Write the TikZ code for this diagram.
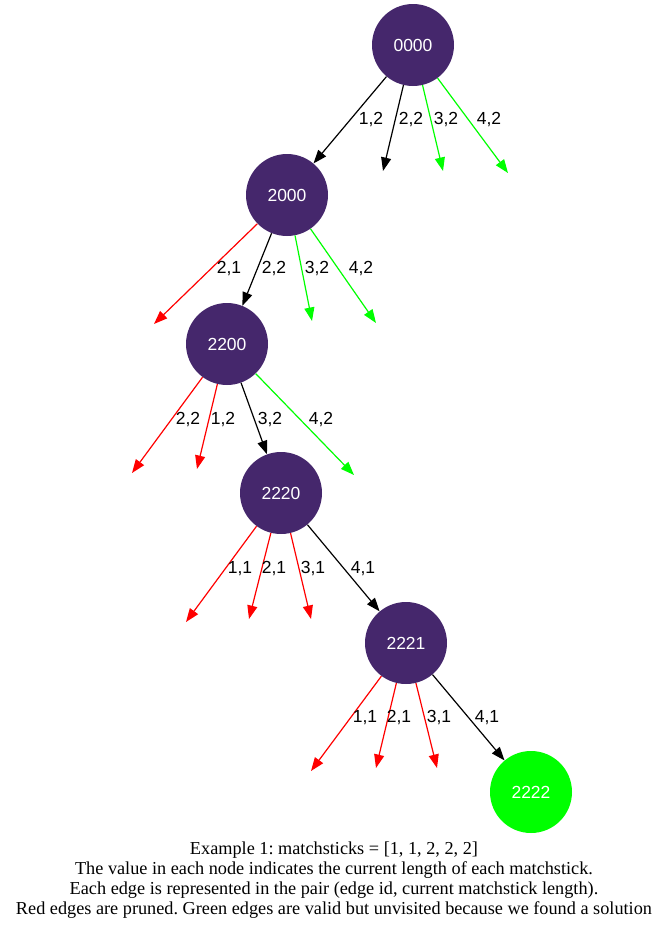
\documentclass[tikz,border=0pt]{standalone}
\usepackage{fontspec}
\setmainfont{Liberation Serif}
\newfontfamily\helv{Liberation Sans}
\usetikzlibrary{arrows.meta}
\definecolor{statecol}{RGB}{69,39,108}
\definecolor{okgreen}{RGB}{0,255,0}
\definecolor{cutred}{RGB}{255,0,0}
\frenchspacing

\tikzset{
  state/.style={circle,fill=statecol,minimum size=82pt,inner sep=0pt,text=white,font=\helv\fontsize{17.5}{20}\selectfont},
  found/.style={state,fill=okgreen},
  lbl/.style={inner sep=0pt,text=black,yshift=-1pt,font=\helv\fontsize{17.5}{20}\selectfont},
  gv/.style={line width=1.2pt,-{Triangle[length=13.5pt,width=10pt]}},
  taken/.style={gv,black},
  cut/.style={gv,cutred},
  open/.style={gv,okgreen}
}

\begin{document}
\begin{tikzpicture}[x=1pt,y=-1pt]
\useasboundingbox (0,0) rectangle (668,930);

\node[state] (s0) at (413,45) {0000};
\node[state] (s1) at (287,195) {2000};
\node[state] (s2) at (227,344) {2200};
\node[state] (s3) at (281,493) {2220};
\node[state] (s4) at (406,643) {2221};
\node[found] (s5) at (531,792) {2222};

% free ends
\coordinate (a2) at (383,171);  \coordinate (a3) at (443,171);  \coordinate (a4) at (508,173);
\coordinate (b1) at (154,324);  \coordinate (b3) at (312,321);  \coordinate (b4) at (376,323);
\coordinate (c2) at (132,473);  \coordinate (c1) at (197,469);  \coordinate (c4) at (354,475);
\coordinate (d1) at (186,622);  \coordinate (d2) at (249,619);  \coordinate (d3) at (311,619);
\coordinate (e1) at (311,771);  \coordinate (e2) at (376,768);  \coordinate (e3) at (437,768);

% 0000
\draw[taken] (s0) -- (s1) node[lbl] (la1) at (371,119) {1,2};
\draw[taken] (s0) -- (a2) node[lbl] (la2) at (411,119) {2,2};
\draw[open]  (s0) -- (a3) node[lbl] (la3) at (446,119) {3,2};
\draw[open]  (s0) -- (a4) node[lbl] (la4) at (489,119) {4,2};
% 2000
\draw[cut]   (s1) -- (b1) node[lbl] (lb1) at (229,268) {2,1};
\draw[taken] (s1) -- (s2) node[lbl] (lb2) at (274,268) {2,2};
\draw[open]  (s1) -- (b3) node[lbl] (lb3) at (317,268) {3,2};
\draw[open]  (s1) -- (b4) node[lbl] (lb4) at (361,268) {4,2};
% 2200
\draw[cut]   (s2) -- (c2) node[lbl] (lc2) at (188,419) {2,2};
\draw[cut]   (s2) -- (c1) node[lbl] (lc1) at (223,419) {1,2};
\draw[taken] (s2) -- (s3) node[lbl] (lc3) at (270,419) {3,2};
\draw[open]  (s2) -- (c4) node[lbl] (lc4) at (321,419) {4,2};
% 2220
\draw[cut]   (s3) -- (d1) node[lbl] (ld1) at (240,568) {1,1};
\draw[cut]   (s3) -- (d2) node[lbl] (ld2) at (274,568) {2,1};
\draw[cut]   (s3) -- (d3) node[lbl] (ld3) at (313,568) {3,1};
\draw[taken] (s3) -- (s4) node[lbl] (ld4) at (363,568) {4,1};
% 2221
\draw[cut]   (s4) -- (e1) node[lbl] (le1) at (365,717) {1,1};
\draw[cut]   (s4) -- (e2) node[lbl] (le2) at (399,717) {2,1};
\draw[cut]   (s4) -- (e3) node[lbl] (le3) at (439,717) {3,1};
\draw[taken] (s4) -- (s5) node[lbl] (le4) at (487,717) {4,1};

\node[align=center,inner sep=0pt,font=\fontsize{18.25}{19.8}\selectfont] (cap) at (334,880)
  {Example 1: matchsticks = [1, 1, 2, 2, 2]\\
   The value in each node indicates the current length of each matchstick.\\
   Each edge is represented in the pair (edge id, current matchstick length).\\
   Red edges are pruned. Green edges are valid but unvisited because we found a solution};
\end{tikzpicture}
\end{document}
